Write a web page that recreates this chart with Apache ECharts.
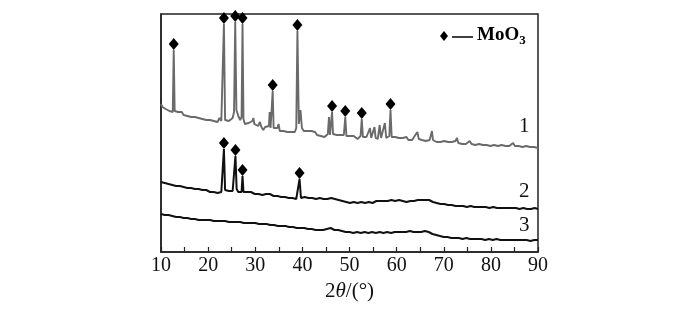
<!DOCTYPE html>
<html>
<head>
<meta charset="utf-8">
<script src="https://cdn.jsdelivr.net/npm/echarts@6/dist/echarts.min.js"></script>
<style>html,body{margin:0;padding:0;background:#fff;}#c{width:700px;height:325px;}</style>
</head>
<body>
<div id="c"></div>
<script>
// x axis ticks
var xTicks = [10, 20, 30, 40, 50, 60, 70, 80, 90];
var seriesNames = ['1', '2', '3'];

// Curve 1 (gray): [2theta, intensity a.u.]
var curve1 = [
[10.0,148],[10.3,145],[10.6,146],[11.0,143],[11.4,144],[11.8,141],[12.2,142],[12.5,140],[12.7,202],[12.9,141],
[13.2,139],[13.6,140],[14.0,138],[14.4,140],[14.8,137],[15.2,138],[15.6,136],[16.0,138],[16.4,135],[16.8,137],
[17.2,135],[17.6,136],[18.0,134],[18.4,135],[18.8,133],[19.2,134],[19.6,132],[20.0,134],[20.4,132],[20.8,133],
[21.2,131],[21.6,132],[22.0,130],[22.4,134],[22.8,131],[23.1,132],[23.35,228],[23.6,132],[24.0,130],[24.4,131],
[24.8,130],[25.2,134],[25.5,140],[25.75,230],[26.0,142],[26.4,136],[26.8,132],[27.1,135],[27.3,228],[27.5,133],
[27.8,128],[28.2,127],[28.6,129],[29.0,127],[29.4,131],[29.6,134],[29.8,128],[30.2,127],[30.6,126],[31.0,130],
[31.3,125],[31.7,122],[32.1,125],[32.5,123],[32.9,126],[33.05,140],[33.25,124],[33.5,126],[33.7,161],[33.9,124],
[34.3,122],[34.7,124],[34.95,128],[35.2,121],[35.6,123],[36.0,121],[36.4,122],[36.8,120],[37.2,122],[37.6,120],
[38.0,121],[38.4,120],[38.7,124],[38.95,221],[39.25,128],[39.6,142],[39.9,124],[40.3,121],[40.7,120],[41.1,121],
[41.5,119],[41.9,121],[42.3,119],[42.7,120],[43.1,117],[43.5,119],[43.9,116],[44.3,118],[44.7,115],[45.1,117],
[45.4,118],[45.65,135],[45.85,117],[46.1,119],[46.3,140],[46.5,118],[46.9,116],[47.3,117],[47.7,115],[48.1,117],
[48.5,115],[48.8,117],[49.1,135],[49.35,116],[49.7,114],[50.1,116],[50.5,114],[50.9,116],[51.3,115],[51.7,113],
[52.1,115],[52.35,116],[52.6,133],[52.85,115],[53.2,113],[53.6,115],[54.0,114],[54.35,124],[54.6,114],[55.0,113],
[55.3,125],[55.55,114],[56.0,113],[56.4,127],[56.7,114],[57.1,113],[57.5,129],[57.8,114],[58.2,113],[58.45,116],
[58.7,142],[58.95,115],[59.3,113],[59.7,115],[60.1,113],[60.5,114],[60.9,112],[61.3,114],[61.7,113],[62.1,115],
[62.5,112],[62.9,114],[63.3,112],[63.7,115],[64.1,113],[64.4,120],[64.7,113],[65.0,115],[65.4,112],[65.8,114],
[66.2,111],[66.6,113],[67.0,112],[67.3,114],[67.5,121],[67.7,112],[68.1,113],[68.5,110],[68.9,112],[69.3,110],
[69.7,109],[70.1,111],[70.5,109],[70.9,110],[71.3,108],[71.7,110],[72.1,109],[72.5,111],[72.8,114],[73.1,109],
[73.5,110],[73.9,108],[74.3,110],[74.7,108],[75.1,109],[75.5,111],[75.9,108],[76.3,110],[76.7,107],[77.1,109],
[77.5,108],[77.9,110],[78.3,107],[78.7,109],[79.1,107],[79.5,108],[79.9,106],[80.3,108],[80.7,107],[81.1,109],
[81.5,106],[81.9,108],[82.3,107],[82.7,109],[83.1,106],[83.5,108],[83.9,106],[84.3,107],[84.7,109],[85.1,106],
[85.5,108],[85.9,106],[86.3,107],[86.7,105],[87.1,107],[87.5,106],[87.9,108],[88.3,105],[88.7,107],[89.1,105],
[89.5,107],[90.0,104]
];
var markers1 = [[12.7,202],[23.35,228],[25.75,230],[27.3,228],[33.7,161],[38.95,221],[46.3,140],[49.1,135],[52.6,133],[58.7,142]];

// Curve 2 (black)
var curve2 = [
[10.0,70],[10.4,68],[10.8,69],[11.2,67],[11.6,68],[12.0,66],[12.4,67],[12.8,65],[13.2,66],[13.6,64],
[14.0,66],[14.4,64],[14.8,65],[15.2,63],[15.6,64],[16.0,62],[16.4,64],[16.8,62],[17.2,63],[17.6,61],
[18.0,63],[18.4,61],[18.8,62],[19.2,60],[19.6,62],[20.0,61],[20.4,60],[20.8,62],[21.2,60],[21.6,61],
[22.0,59],[22.4,61],[22.8,60],[23.1,61],[23.35,103],[23.6,62],[24.0,60],[24.4,61],[24.8,59],[25.2,61],
[25.5,62],[25.8,96],[26.05,63],[26.4,60],[26.8,61],[27.1,60],[27.3,76],[27.5,60],[27.9,59],[28.3,60],
[28.7,58],[29.1,60],[29.5,59],[29.9,58],[30.3,60],[30.7,58],[31.1,59],[31.5,57],[31.9,59],[32.3,58],
[32.7,56],[33.1,58],[33.5,57],[33.9,56],[34.3,58],[34.7,56],[35.1,57],[35.5,55],[35.9,57],[36.3,55],
[36.7,56],[37.1,54],[37.5,56],[37.9,54],[38.3,55],[38.7,53],[39.1,55],[39.4,73],[39.7,54],[40.1,53],
[40.5,55],[40.9,53],[41.3,54],[41.7,52],[42.1,54],[42.5,52],[42.9,53],[43.3,52],[43.7,54],[44.1,52],
[44.5,53],[44.9,54],[45.3,53],[45.7,55],[46.1,54],[46.5,55],[46.9,53],[47.3,54],[47.7,52],[48.1,53],
[48.5,51],[48.9,52],[49.3,50],[49.7,51],[50.1,49],[50.5,51],[50.9,50],[51.3,51],[51.7,49],[52.1,51],
[52.5,50],[52.9,51],[53.3,49],[53.7,51],[54.1,50],[54.5,51],[54.9,49],[55.3,50],[55.7,51],[56.1,49],
[56.5,51],[56.9,50],[57.3,51],[57.7,49],[58.1,51],[58.5,50],[58.9,52],[59.3,50],[59.7,51],[60.1,50],
[60.5,52],[60.9,50],[61.3,51],[61.7,52],[62.1,50],[62.5,52],[62.9,51],[63.3,52],[63.7,51],[64.1,53],
[64.5,52],[64.9,53],[65.3,52],[65.7,53],[66.1,52],[66.5,53],[66.9,52],[67.3,51],[67.7,50],[68.1,49],
[68.5,49],[68.9,48],[69.3,48],[69.7,47],[70.1,48],[70.5,46],[70.9,47],[71.3,46],[71.7,47],[72.1,45],
[72.5,46],[72.9,45],[73.3,46],[73.7,45],[74.1,46],[74.5,44],[74.9,45],[75.3,44],[75.7,46],[76.1,44],
[76.5,45],[76.9,44],[77.3,45],[77.7,43],[78.1,45],[78.5,44],[78.9,45],[79.3,43],[79.7,44],[80.1,43],
[80.5,45],[80.9,43],[81.3,44],[81.7,43],[82.1,44],[82.5,42],[82.9,44],[83.3,43],[83.7,44],[84.1,42],
[84.5,44],[84.9,43],[85.3,44],[85.7,42],[86.1,43],[86.5,42],[86.9,44],[87.3,42],[87.7,43],[88.1,42],
[88.5,43],[88.9,42],[89.3,44],[89.7,42],[90.0,43]
];
var markers2 = [[23.35,103],[25.8,96],[27.3,76],[39.4,73]];

// Curve 3 (black)
var curve3 = [
[10.0,38],[10.4,36],[10.8,37],[11.2,35],[11.6,37],[12.0,35],[12.4,36],[12.8,34],[13.2,35],[13.6,33],
[14.0,35],[14.4,33],[14.8,34],[15.2,33],[15.6,34],[16.0,32],[16.4,33],[16.8,31],[17.2,33],[17.6,31],
[18.0,32],[18.4,31],[18.8,32],[19.2,30],[19.6,32],[20.0,31],[20.4,32],[20.8,30],[21.2,31],[21.6,30],
[22.0,31],[22.4,29],[22.8,31],[23.2,30],[23.6,31],[24.0,29],[24.4,30],[24.8,29],[25.2,30],[25.6,28],
[26.0,30],[26.4,29],[26.8,30],[27.2,28],[27.6,29],[28.0,28],[28.4,29],[28.8,27],[29.2,29],[29.6,28],
[30.0,29],[30.4,27],[30.8,28],[31.2,27],[31.6,28],[32.0,26],[32.4,28],[32.8,26],[33.2,27],[33.6,25],
[34.0,27],[34.4,25],[34.8,26],[35.2,25],[35.6,26],[36.0,24],[36.4,26],[36.8,24],[37.2,25],[37.6,23],
[38.0,25],[38.4,23],[38.8,24],[39.2,23],[39.6,24],[40.0,22],[40.4,24],[40.8,22],[41.2,23],[41.6,21],
[42.0,23],[42.4,21],[42.8,22],[43.2,21],[43.6,22],[44.0,21],[44.4,22],[44.8,22],[45.2,23],[45.6,22],
[46.0,24],[46.4,23],[46.8,22],[47.2,21],[47.6,22],[48.0,20],[48.4,21],[48.8,19],[49.2,20],[49.6,18],
[50.0,20],[50.4,18],[50.8,19],[51.2,18],[51.6,20],[52.0,18],[52.4,19],[52.8,18],[53.2,20],[53.6,18],
[54.0,19],[54.4,18],[54.8,20],[55.2,18],[55.6,19],[56.0,18],[56.4,20],[56.8,18],[57.2,19],[57.6,18],
[58.0,20],[58.4,18],[58.8,19],[59.2,18],[59.6,20],[60.0,19],[60.4,20],[60.8,18],[61.2,20],[61.6,19],
[62.0,20],[62.4,19],[62.8,21],[63.2,19],[63.6,20],[64.0,21],[64.4,20],[64.8,21],[65.2,20],[65.6,22],
[66.0,21],[66.4,22],[66.8,20],[67.2,20],[67.6,18],[68.0,18],[68.4,17],[68.8,17],[69.2,16],[69.6,16],
[70.0,15],[70.4,16],[70.8,15],[71.2,16],[71.6,14],[72.0,15],[72.4,14],[72.8,15],[73.2,14],[73.6,15],
[74.0,13],[74.4,15],[74.8,14],[75.2,15],[75.6,13],[76.0,14],[76.4,13],[76.8,15],[77.2,13],[77.6,14],
[78.0,13],[78.4,14],[78.8,12],[79.2,14],[79.6,13],[80.0,14],[80.4,12],[80.8,14],[81.2,13],[81.6,14],
[82.0,12],[82.4,13],[82.8,12],[83.2,14],[83.6,12],[84.0,13],[84.4,12],[84.8,14],[85.2,12],[85.6,13],
[86.0,12],[86.4,14],[86.8,12],[87.2,13],[87.6,12],[88.0,13],[88.4,11],[88.8,13],[89.2,12],[89.6,13],
[90.0,12]
];

var serif = '"Liberation Serif", "DejaVu Serif", serif';
var chart = echarts.init(document.getElementById('c'));
var markerStyle = {
  type: 'scatter', symbol: 'diamond', symbolSize: [10, 12], symbolOffset: [0, -6],
  itemStyle: { color: '#000', opacity: 1 }, z: 5, silent: true
};
chart.setOption({
  backgroundColor: '#fff',
  animation: false,
  grid: { left: 161, right: 162, top: 14, bottom: 73, show: true, borderColor: '#222', borderWidth: 1.5, outerBoundsMode: 'none', containLabel: false },
  xAxis: {
    type: 'value', min: 10, max: 90, interval: 5,
    name: '{n|2}{t|θ}{n|/(°)}', nameLocation: 'middle', nameGap: 28,
    nameTextStyle: { rich: { n: { fontFamily: serif, fontSize: 21, color: '#111' }, t: { fontFamily: serif, fontStyle: 'italic', fontSize: 21, color: '#111' } } },
    axisLine: { show: true, lineStyle: { color: '#222', width: 1.5 } },
    axisTick: { show: true, inside: true, length: 5, lineStyle: { color: '#222', width: 1.2 } },
    axisLabel: { fontFamily: serif, fontSize: 20, color: '#111', margin: 4,
      formatter: function (v) { return xTicks.indexOf(v) >= 0 ? String(v) : ''; } },
    splitLine: { show: false }
  },
  yAxis: {
    type: 'value', min: 0, max: 238,
    axisLine: { show: true, lineStyle: { color: '#222', width: 1.5 } },
    axisTick: { show: false }, axisLabel: { show: false }, splitLine: { show: false }
  },
  series: [
    { name: seriesNames[0], type: 'line', data: curve1, showSymbol: false, lineStyle: { color: '#6a6a6a', width: 1.9 }, silent: true },
    { name: seriesNames[1], type: 'line', data: curve2, showSymbol: false, lineStyle: { color: '#111', width: 2 }, silent: true },
    { name: seriesNames[2], type: 'line', data: curve3, showSymbol: false, lineStyle: { color: '#111', width: 2 }, silent: true },
    Object.assign({ name: 'MoO3 1', data: markers1 }, markerStyle),
    Object.assign({ name: 'MoO3 2', data: markers2 }, markerStyle)
  ],
  graphic: [
    { type: 'text', left: 519, top: 116, style: { text: seriesNames[0], font: '21px ' + serif, fill: '#111' } },
    { type: 'text', left: 519, top: 181, style: { text: seriesNames[1], font: '21px ' + serif, fill: '#111' } },
    { type: 'text', left: 519, top: 215, style: { text: seriesNames[2], font: '21px ' + serif, fill: '#111' } },
    { type: 'polygon', shape: { points: [[444, 31], [448, 36], [444, 41], [440, 36]] }, style: { fill: '#000' } },
    { type: 'line', shape: { x1: 452, y1: 37, x2: 473, y2: 37 }, style: { stroke: '#000', lineWidth: 1.5 } },
    { type: 'text', left: 477, top: 26, style: { text: '{m|MoO}{s|3}', rich: { m: { fontFamily: serif, fontWeight: 'bold', fontSize: 19, color: '#111' }, s: { fontFamily: serif, fontWeight: 'bold', fontSize: 13, color: '#111', padding: [10, 0, 0, 0] } } } }
  ]
});
</script>
</body>
</html>
